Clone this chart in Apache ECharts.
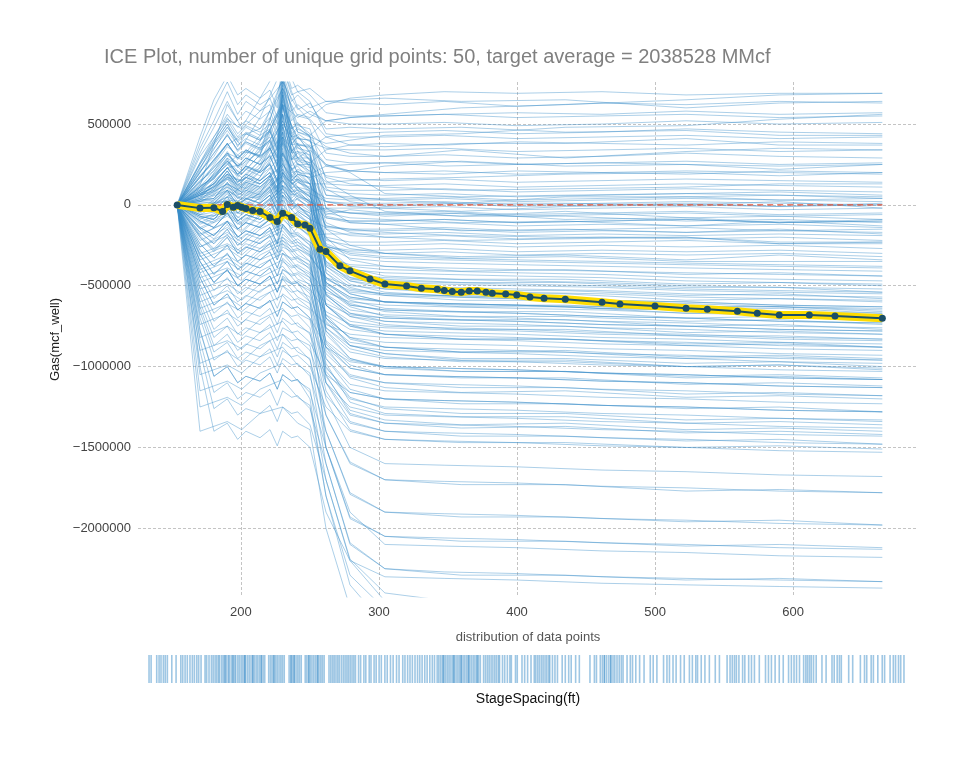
<!DOCTYPE html>
<html>
<head>
<meta charset="utf-8">
<script src="https://cdn.jsdelivr.net/npm/echarts@6/dist/echarts.min.js"></script>
<style>html,body{margin:0;padding:0;background:#fff;}#chart{width:977px;height:757px;}</style>
</head>
<body>
<div id="chart"></div>
<script>
// 50 unique grid points of StageSpacing(ft)
const gridX = [153.8,170.3,180.4,186.7,190.1,194.4,197.6,200.5,203.6,208.5,213.8,221.0,226.3,230.2,236.7,241.1,246.4,250.0,257.2,261.6,271.7,279.0,293.5,304.3,320.0,330.7,342.2,347.3,353.1,359.6,365.4,371.2,377.5,382.1,391.8,399.8,409.4,419.6,435.0,461.6,474.6,500.0,522.5,537.9,559.7,574.1,590.0,611.8,630.4,664.7];
// average (PDP) centered gas, mcf_well
const avgGas = [0,-20000,-17000,-41000,2000,-14000,-4000,-14000,-23000,-35000,-41000,-78000,-103000,-52000,-78000,-118000,-124000,-144000,-274000,-289000,-377000,-408000,-458000,-490000,-501000,-516000,-522000,-530000,-536000,-540000,-532000,-532000,-540000,-546000,-551000,-557000,-569000,-577000,-583000,-602000,-613000,-625000,-639000,-645000,-658000,-670000,-681000,-681000,-687000,-701000];

// ICE curves read at a coarse subset of the grid (values in thousands of mcf_well)
const iceXA = [153.8,170.3,190.1,200.5,213.8,230.2,241.1,250.0,261.6,279.0,304.3,359.6,435.0,522.5,590.0,664.7];
const iceLinesA = [
[0,150,320,280,400,620,540,580,520,540,560,600,620,650,680,690],
[0,90,250,330,310,800,450,420,380,400,430,440,480,490,530,560],
[0,200,480,360,540,850,600,520,320,300,300,340,290,330,350,340],
[0,60,170,150,280,420,290,340,250,210,240,270,240,250,220,250],
[0,120,620,480,660,900,700,720,640,650,660,640,650,600,630,640],
[0,30,130,80,210,390,250,250,140,150,160,170,190,200,180,200],
[0,250,530,470,580,760,590,630,470,480,470,480,450,460,430,430],
[0,80,310,210,360,610,410,400,170,130,110,90,100,110,130,130],
[0,180,370,430,470,720,550,530,420,370,360,380,380,410,370,370],
[0,40,230,250,330,500,370,370,250,200,70,50,60,70,80,60],
[0,20,90,30,130,250,140,110,20,-10,-20,-40,-10,0,20,-20],
[0,-30,50,110,70,310,170,130,-50,-80,-90,-110,-100,-130,-100,-130],
[0,60,160,110,210,450,250,230,-110,-170,-200,-220,-210,-200,-240,-240],
[0,-60,-30,40,50,200,90,50,-130,-150,-170,-190,-200,-200,-230,-230],
[0,100,270,190,310,650,370,360,60,50,30,10,50,50,60,40],
[0,-20,30,20,70,180,110,50,-60,-30,-50,-70,-40,-80,-70,-90],
[0,70,190,150,230,520,290,290,-20,-110,-120,-160,-150,-170,-150,-180],
[0,-80,-50,-50,10,120,50,10,-210,-270,-300,-320,-310,-340,-310,-340],
[0,40,130,80,170,380,200,190,-150,-250,-300,-330,-320,-350,-350,-350],
[0,130,360,290,430,780,490,470,150,60,-40,-70,-70,-100,-90,-110],
[0,10,20,-10,40,150,70,20,-30,-50,-70,-50,-90,-80,-110,-90],
[0,90,290,230,340,620,410,400,100,20,-10,10,10,0,-10,10],
[0,-50,50,10,110,250,110,90,-400,-510,-560,-590,-590,-630,-630,-650],
[0,-120,-50,-110,-10,100,-20,-50,-500,-610,-660,-690,-690,-720,-710,-740],
[0,30,170,120,230,480,270,250,-300,-450,-500,-530,-530,-560,-550,-580],
[0,-180,-110,-170,-70,30,-70,-110,-560,-670,-720,-750,-750,-790,-780,-800],
[0,60,230,170,270,560,330,310,-250,-390,-440,-460,-460,-490,-480,-500],
[0,-90,-20,-60,50,180,50,30,-620,-740,-800,-830,-830,-860,-850,-880],
[0,-150,-70,-130,-30,80,-30,-70,-450,-550,-600,-630,-630,-670,-660,-690],
[0,20,110,60,170,420,190,170,-700,-820,-880,-910,-910,-950,-940,-960],
[0,-220,-140,-210,-110,-20,-110,-150,-520,-630,-690,-710,-710,-750,-740,-770],
[0,110,310,240,390,720,450,430,-200,-340,-380,-410,-400,-430,-420,-440],
[0,-60,30,-20,80,220,90,60,-350,-470,-520,-550,-550,-590,-580,-600],
[0,-260,-170,-230,-130,-40,-130,-190,-620,-750,-800,-830,-830,-870,-860,-880],
[0,50,190,140,250,520,290,260,-550,-690,-740,-770,-770,-810,-810,-830],
[0,-110,-30,-90,20,150,30,-10,-480,-590,-640,-660,-660,-700,-690,-720],
[0,-30,90,40,150,320,150,130,-380,-490,-540,-570,-590,-630,-630,-660],
[0,-190,-100,-160,-60,60,-40,-90,-700,-870,-920,-960,-960,-1000,-990,-1010],
[0,80,250,190,310,600,350,330,-420,-550,-600,-620,-620,-650,-640,-670],
[0,-140,-60,-120,-20,100,-10,-50,-300,-410,-460,-480,-480,-510,-510,-540],
[0,-300,-240,-290,-190,-120,-230,-270,-800,-950,-1000,-1030,-1030,-1070,-1060,-1080],
[0,-380,-310,-370,-270,-200,-310,-350,-900,-1050,-1100,-1130,-1130,-1170,-1160,-1180],
[0,-450,-390,-440,-340,-280,-390,-430,-950,-1140,-1200,-1230,-1230,-1260,-1250,-1280],
[0,-520,-460,-510,-410,-340,-460,-490,-1000,-1190,-1260,-1290,-1290,-1330,-1320,-1340],
[0,-340,-270,-330,-230,-160,-270,-310,-760,-890,-940,-970,-970,-1000,-990,-1020],
[0,-600,-530,-590,-490,-420,-530,-570,-1050,-1290,-1350,-1380,-1370,-1410,-1400,-1420],
[0,-420,-350,-410,-310,-240,-350,-390,-850,-990,-1050,-1070,-1070,-1110,-1100,-1120],
[0,-680,-610,-660,-570,-500,-610,-650,-1100,-1340,-1400,-1430,-1430,-1460,-1450,-1480],
[0,-260,-190,-250,-150,-80,-190,-230,-680,-830,-880,-910,-900,-940,-930,-950],
[0,-480,-410,-470,-370,-300,-410,-450,-880,-1070,-1130,-1160,-1150,-1190,-1180,-1200],
[0,-560,-490,-550,-450,-380,-490,-530,-980,-1220,-1290,-1310,-1310,-1350,-1340,-1360],
[0,-740,-670,-730,-630,-560,-670,-710,-1150,-1390,-1450,-1470,-1470,-1500,-1490,-1510],
[0,-320,-250,-310,-210,-140,-250,-290,-720,-870,-920,-950,-950,-980,-970,-1000],
[0,-400,-330,-390,-290,-220,-330,-370,-780,-950,-1010,-1030,-1030,-1060,-1050,-1070],
[0,-640,-570,-630,-530,-460,-570,-610,-1060,-1270,-1330,-1360,-1350,-1390,-1380,-1400],
[0,-820,-750,-810,-710,-640,-750,-790,-1300,-1590,-1700,-1730,-1730,-1770,-1760,-1780],
[0,-900,-840,-890,-790,-720,-830,-870,-1400,-1790,-1900,-1930,-1930,-1960,-1950,-1980],
[0,-980,-910,-970,-870,-800,-910,-950,-1500,-1940,-2050,-2080,-2080,-2110,-2100,-2120],
[0,-1050,-990,-1040,-940,-880,-990,-1040,-1600,-2090,-2250,-2290,-2290,-2320,-2310,-2330],
[0,-1150,-1090,-1140,-1040,-980,-1090,-1140,-1700,-2190,-2400,-2460,-2470,-2500,-2500,-2500],
[0,-1250,-1190,-1240,-1140,-1080,-1190,-1240,-1800,-2290,-2500,-2560,-2570,-2600,-2600,-2600],
[0,-1400,-1340,-1390,-1290,-1250,-1350,-1390,-2000,-2490,-2700,-2760,-2790,-2800,-2800,-2800]
];

// ICE curves read at a finer subset of the grid (values in thousands of mcf_well)
const iceXB = [153.8,170.3,180.4,190.1,197.6,203.6,213.8,221.0,226.3,230.2,236.7,241.1,250.0,261.6,279.0,304.3,347.3,399.8,461.6,522.5,590.0,664.7];
const iceLinesB = [
[0,300,420,560,480,520,470,540,430,780,520,560,540,620,660,680,700,690,700,680,690,690],
[0,220,380,500,360,440,400,460,330,700,420,470,430,520,540,550,560,570,560,580,560,570],
[0,350,520,700,560,640,580,620,500,820,640,680,600,640,630,620,640,610,630,620,640,630],
[0,180,260,380,290,330,300,360,240,620,330,380,350,420,440,450,460,440,450,470,450,440],
[0,120,160,290,180,240,210,260,150,500,240,280,260,340,370,380,370,390,380,370,390,380],
[0,260,400,520,420,480,430,470,360,760,470,500,440,360,320,300,310,290,300,320,300,290],
[0,90,130,230,140,170,150,200,100,420,180,220,190,240,250,260,240,250,260,250,240,250],
[0,210,300,440,330,380,340,390,270,680,380,420,360,240,210,200,190,210,200,190,210,200],
[0,150,210,330,230,290,250,310,190,560,280,330,280,180,160,150,160,140,150,160,150,140],
[0,60,80,180,90,130,100,150,60,350,120,160,130,130,120,120,130,110,120,130,120,110],
[0,320,480,640,520,580,530,580,460,800,580,620,560,520,500,500,510,490,500,520,500,510],
[0,110,170,280,190,230,200,250,140,480,210,250,210,90,70,60,70,50,60,70,60,50],
[0,40,60,160,70,110,80,130,40,320,100,140,100,40,30,30,40,20,30,40,30,20],
[0,230,350,460,370,410,370,420,300,720,400,440,390,350,340,340,350,330,340,350,330,340],
[0,380,600,760,620,680,620,660,540,850,680,700,640,440,420,420,430,410,420,430,410,420],
[0,70,100,210,110,150,130,180,80,400,150,190,170,200,210,200,210,190,200,210,200,190],
[0,170,270,380,280,340,290,350,230,640,330,370,300,110,90,90,100,80,90,100,90,80],
[0,420,650,800,680,720,660,710,600,900,720,740,680,570,550,550,560,540,550,560,540,550],
[0,30,40,130,40,80,50,100,20,280,60,100,70,20,10,10,20,0,10,20,10,0],
[0,250,380,500,400,450,410,460,350,740,440,480,420,280,260,260,270,250,260,270,250,260],
[0,-10,10,90,0,40,10,60,-30,220,20,60,20,-40,-50,-50,-40,-60,-50,-40,-60,-50],
[0,80,130,230,140,190,150,200,100,450,170,210,160,-70,-100,-100,-90,-110,-100,-90,-110,-100],
[0,-70,-90,0,-100,-60,-90,-40,-140,120,-80,-40,-90,-140,-150,-150,-140,-160,-150,-140,-160,-150],
[0,140,230,320,240,290,250,300,200,560,280,320,240,-150,-190,-200,-190,-210,-200,-210,-200,-220],
[0,20,40,140,60,90,60,110,10,290,80,110,50,-220,-250,-250,-240,-260,-250,-260,-250,-270],
[0,-40,-40,50,-50,-10,-40,10,-90,170,-30,10,-40,-20,-20,-20,-10,-30,-20,-10,-30,-20],
[0,200,320,430,340,390,350,400,290,680,370,420,330,-80,-110,-120,-110,-130,-120,-130,-120,-140],
[0,60,90,190,100,140,110,160,60,380,130,160,100,-260,-290,-300,-290,-310,-300,-310,-300,-320],
[0,-140,-190,-100,-200,-160,-190,-140,-240,30,-180,-140,-190,-180,-180,-180,-170,-190,-180,-190,-180,-190],
[0,110,180,270,190,240,200,250,150,500,220,260,190,20,0,0,10,-10,0,10,-10,0],
[0,-20,-10,80,-20,20,-10,40,-70,200,0,40,-20,-200,-230,-230,-220,-240,-230,-220,-240,-230],
[0,260,420,540,440,490,450,500,380,780,470,510,420,-20,-50,-60,-50,-70,-60,-50,-70,-60],
[0,70,110,210,120,170,130,180,80,420,150,190,130,-130,-160,-160,-150,-170,-160,-170,-160,-170],
[0,-100,-140,-50,-150,-110,-140,-90,-190,60,-130,-90,-150,-260,-280,-280,-270,-290,-280,-290,-280,-300],
[0,170,280,380,290,340,300,350,250,620,320,360,280,60,40,40,50,30,40,50,30,40],
[0,10,20,110,20,60,30,80,-30,240,40,80,20,-80,-100,-100,-90,-110,-100,-90,-110,-100],
[0,-40,-40,50,-50,-10,-40,10,-60,60,-30,0,-80,-480,-570,-600,-610,-620,-630,-650,-660,-670],
[0,60,90,190,100,140,110,160,70,200,130,150,70,-380,-470,-500,-510,-520,-530,-550,-560,-570],
[0,-100,-140,-50,-150,-110,-140,-90,-160,-60,-130,-110,-180,-560,-670,-700,-710,-720,-740,-750,-770,-780],
[0,110,180,270,190,240,200,250,150,330,220,240,150,-300,-380,-400,-410,-420,-430,-450,-460,-470],
[0,-170,-240,-150,-250,-210,-240,-190,-290,-180,-230,-210,-280,-620,-720,-750,-760,-770,-790,-800,-820,-830],
[0,-10,10,90,0,40,10,60,-40,120,20,40,-30,-260,-330,-350,-360,-370,-380,-390,-400,-410],
[0,170,280,380,290,340,300,350,250,620,320,330,230,-420,-520,-550,-560,-570,-590,-600,-620,-630],
[0,-70,-90,0,-100,-60,-90,-40,-140,-20,-80,-60,-130,-350,-430,-450,-460,-470,-480,-500,-510,-520],
[0,-240,-330,-250,-350,-310,-340,-290,-390,-300,-330,-320,-380,-680,-770,-800,-810,-820,-840,-850,-870,-880],
[0,30,40,140,60,90,60,110,10,150,80,90,10,-520,-620,-650,-660,-670,-690,-700,-720,-730],
[0,-140,-190,-100,-200,-160,-190,-140,-240,-120,-180,-170,-230,-320,-370,-380,-390,-400,-410,-420,-430,-440],
[0,80,130,230,140,190,150,200,100,450,170,180,90,-580,-690,-720,-730,-740,-760,-770,-790,-800],
[0,-200,-280,-200,-300,-260,-290,-240,-340,-240,-280,-270,-320,-450,-500,-520,-530,-540,-550,-570,-580,-590],
[0,140,230,320,240,290,250,300,200,560,280,290,200,-240,-300,-320,-330,-340,-350,-360,-370,-380],
[0,-60,-70,20,-80,-40,-70,-20,-120,0,-60,-50,-120,-550,-650,-680,-690,-700,-720,-730,-750,-760],
[0,-280,-380,-300,-400,-360,-390,-340,-440,-330,-380,-370,-420,-540,-600,-620,-630,-640,-650,-670,-680,-690],
[0,230,370,480,390,440,400,450,340,700,420,430,320,-360,-460,-480,-490,-500,-510,-530,-540,-550],
[0,-80,-110,-20,-120,-80,-110,-60,-160,-40,-100,-90,-160,-450,-540,-560,-570,-580,-600,-610,-630,-640],
[0,50,70,170,80,120,90,140,40,200,110,110,30,-620,-750,-780,-790,-800,-820,-830,-850,-860],
[0,-310,-430,-350,-450,-410,-440,-390,-490,-400,-430,-420,-470,-610,-680,-700,-710,-720,-740,-750,-770,-780],
[0,100,160,260,170,220,180,230,130,320,200,210,130,-320,-400,-420,-430,-440,-450,-470,-480,-490],
[0,-150,-210,-120,-220,-180,-210,-160,-260,-130,-200,-190,-250,-490,-580,-600,-610,-620,-640,-650,-670,-680],
[0,20,30,120,40,70,40,90,-10,120,60,70,0,-250,-310,-330,-340,-350,-360,-370,-380,-390],
[0,-350,-480,-400,-500,-460,-490,-440,-540,-440,-480,-470,-520,-660,-740,-760,-770,-780,-800,-810,-830,-840],
[0,200,320,430,340,390,350,400,290,680,370,380,270,-500,-620,-650,-660,-670,-690,-700,-720,-730],
[0,-30,-20,70,-30,10,-20,30,-80,60,-10,0,-70,-370,-450,-470,-480,-490,-500,-520,-530,-540],
[0,-190,-270,-180,-280,-240,-270,-220,-320,-220,-260,-250,-310,-460,-530,-550,-560,-570,-590,-600,-620,-630],
[0,70,110,210,120,170,130,180,80,260,150,160,80,-480,-570,-600,-610,-620,-640,-650,-670,-680],
[0,-200,-290,-200,-300,-260,-290,-240,-340,-260,-290,-280,-350,-760,-870,-900,-910,-920,-940,-950,-970,-980],
[0,-350,-480,-400,-500,-460,-490,-440,-540,-460,-490,-480,-550,-880,-1010,-1050,-1060,-1070,-1090,-1100,-1120,-1130],
[0,-70,-90,0,-100,-60,-90,-40,-140,-30,-90,-80,-160,-700,-820,-850,-860,-870,-890,-900,-920,-930],
[0,-450,-620,-550,-650,-610,-640,-590,-690,-600,-640,-630,-700,-1010,-1160,-1200,-1210,-1220,-1240,-1250,-1270,-1280],
[0,-280,-380,-300,-400,-360,-390,-340,-440,-350,-390,-380,-450,-840,-960,-1000,-1010,-1020,-1040,-1050,-1070,-1080],
[0,-520,-720,-650,-750,-710,-740,-690,-790,-700,-740,-730,-800,-1100,-1250,-1300,-1310,-1320,-1340,-1350,-1370,-1380],
[0,-10,10,90,0,40,10,60,-40,80,10,0,-80,-780,-910,-950,-960,-970,-990,-1000,-1020,-1030],
[0,-380,-530,-450,-550,-510,-540,-490,-590,-500,-540,-530,-600,-920,-1060,-1100,-1110,-1120,-1140,-1150,-1170,-1180],
[0,-600,-820,-750,-850,-810,-840,-790,-890,-800,-840,-830,-900,-1180,-1350,-1400,-1410,-1420,-1440,-1450,-1470,-1480],
[0,-140,-190,-100,-200,-160,-190,-140,-240,-120,-190,-180,-250,-730,-850,-880,-890,-900,-920,-930,-950,-960],
[0,-310,-430,-350,-450,-410,-440,-390,-490,-400,-440,-430,-500,-950,-1110,-1150,-1160,-1170,-1190,-1200,-1220,-1230],
[0,-450,-620,-550,-650,-610,-640,-590,-690,-600,-640,-630,-700,-880,-970,-1000,-1010,-1020,-1040,-1050,-1070,-1080],
[0,-240,-330,-250,-350,-310,-340,-290,-390,-300,-340,-330,-400,-1030,-1200,-1250,-1260,-1270,-1290,-1300,-1320,-1330],
[0,-660,-910,-850,-950,-910,-940,-890,-990,-900,-940,-930,-1000,-1250,-1400,-1450,-1460,-1470,-1490,-1500,-1520,-1530],
[0,-420,-580,-500,-600,-560,-590,-540,-640,-550,-590,-580,-640,-740,-800,-820,-830,-840,-860,-870,-890,-900],
[0,-100,-140,-50,-150,-110,-140,-90,-190,-90,-140,-130,-200,-860,-1010,-1050,-1060,-1070,-1090,-1100,-1120,-1130],
[0,-560,-770,-700,-800,-760,-790,-740,-840,-760,-790,-780,-850,-1050,-1160,-1200,-1210,-1220,-1240,-1250,-1270,-1280],
[0,-170,-240,-150,-250,-210,-240,-190,-290,-200,-240,-230,-300,-1100,-1300,-1350,-1360,-1370,-1390,-1400,-1420,-1430],
[0,-630,-870,-800,-900,-860,-890,-840,-940,-850,-890,-880,-960,-1300,-1600,-1700,-1710,-1720,-1740,-1750,-1770,-1780],
[0,-700,-960,-900,-1000,-960,-990,-940,-1040,-950,-990,-980,-1060,-1400,-1780,-1900,-1910,-1920,-1940,-1950,-1970,-1980],
[0,-770,-1060,-1000,-1100,-1060,-1090,-1040,-1140,-1050,-1090,-1080,-1160,-1500,-1930,-2050,-2060,-2070,-2090,-2100,-2120,-2130],
[0,-840,-1160,-1100,-1200,-1160,-1190,-1140,-1240,-1150,-1190,-1180,-1260,-1600,-2100,-2250,-2270,-2280,-2300,-2310,-2320,-2330],
[0,-900,-1260,-1200,-1300,-1260,-1290,-1240,-1340,-1250,-1290,-1280,-1360,-1700,-2200,-2450,-2480,-2490,-2500,-2500,-2500,-2500],
[0,-780,-1060,-1000,-1100,-1060,-1090,-1040,-1140,-1050,-1090,-1080,-1200,-1800,-2350,-2600,-2620,-2630,-2650,-2660,-2670,-2680],
[0,-490,-670,-600,-700,-660,-690,-640,-740,-650,-690,-680,-760,-1200,-1500,-1600,-1610,-1620,-1640,-1650,-1670,-1680],
[0,-350,-480,-400,-500,-460,-490,-440,-540,-450,-490,-480,-600,-1500,-1900,-2100,-2110,-2120,-2140,-2150,-2170,-2180],
[0,-1000,-1400,-1350,-1450,-1400,-1440,-1390,-1490,-1400,-1440,-1430,-1500,-1900,-2200,-2300,-2310,-2320,-2340,-2350,-2360,-2370]
];

// StageSpacing(ft) of the data points (rug)
const rugX = [153.8,155.2,159.0,160.6,161.9,163.5,164.8,166.2,169.2,172.1,175.3,176.6,178.2,179.7,181.5,183.1,184.5,186.1,187.4,189.0,191.7,192.8,194.4,
196.0,197.2,198.5,199.6,200.8,201.5,202.9,204.0,205.2,206.3,207.5,208.1,209.4,210.6,211.8,212.5,213.9,215.0,216.2,217.3,218.5,219.1,220.4,221.6,222.8,224.0,225.1,226.3,227.4,228.6,229.8,231.0,232.1,
234.8,236.0,237.1,238.3,239.5,240.6,241.8,243.0,244.1,245.3,248.6,249.8,251.0,252.1,253.3,254.5,255.6,256.8,259.5,260.6,261.8,263.0,264.1,265.3,266.5,267.6,268.8,270.0,271.1,272.3,
275.6,276.8,278.0,279.1,280.3,281.5,282.6,205.2,210.6,218.5,224.0,229.8,238.3,250.0,252.0,262.0,268.0,
284.0,285.3,286.5,287.7,288.8,290.0,291.2,292.4,293.5,295.6,297.0,299.2,300.5,302.8,304.0,306.1,307.5,309.5,311.0,313.4,315.0,317.2,319.0,321.3,323.0,
325.5,327.0,328.8,330.4,332.0,333.8,335.5,337.0,338.6,340.4,342.0,343.8,345.5,347.0,
348.8,349.9,351.1,352.3,353.4,354.6,355.8,356.9,358.1,359.3,360.4,361.6,362.8,363.9,365.1,366.3,367.4,368.6,369.8,370.9,372.1,373.3,374.4,375.6,376.8,378.0,353.0,360.0,365.0,370.0,376.0,
380.2,381.5,382.8,384.0,385.3,386.5,387.8,389.0,390.3,391.0,393.0,394.5,396.3,398.0,399.0,401.8,403.0,406.2,408.0,410.0,412.3,414.5,
415.5,416.8,418.0,419.3,420.5,421.8,423.0,424.3,425.0,426.8,428.5,430.2,433.4,435.5,437.8,439.5,442.5,445.0,452.2,455.2,456.6,
459.2,460.6,462.0,463.5,465.0,466.3,467.8,469.0,470.5,472.0,473.4,474.6,462.0,466.3,477.3,479.5,481.0,483.2,485.8,488.8,493.0,495.0,497.5,
502.0,504.3,506.0,508.4,510.5,513.5,516.0,519.5,521.5,523.8,525.0,527.5,530.0,533.0,537.0,539.8,545.0,
547.0,548.5,550.0,551.3,553.0,555.5,557.0,559.6,561.5,563.5,566.8,571.0,573.0,575.0,577.5,580.3,583.0,586.6,588.5,590.3,592.0,594.0,
596.8,598.3,599.5,600.8,602.0,603.5,605.3,609.2,612.0,616.0,617.5,619.5,621.0,622.3,627.3,630.0,635.2,638.0,639.5,642.5,644.0,647.0,650.0,651.6,655.3,657.5,659.0,661.0,662.5,664.7];

const K = 1000;
const FONT = 'Liberation Sans, Arial, sans-serif';
const minus = v => String(v).replace('-', '\u2212');

const iceStyle = { color: '#3a8cc8', width: 1.0, opacity: 0.42 };
const makeIce = (xs, lines) => lines.map(vals => ({
  type: 'line',
  data: xs.map((x, j) => [x, vals[j] * K]),
  symbol: 'none', silent: true, animation: false, z: 1,
  lineStyle: iceStyle
}));
const iceSeries = makeIce(iceXA, iceLinesA).concat(makeIce(iceXB, iceLinesB));

const avgData = gridX.map((x, i) => [x, avgGas[i]]);

const option = {
  backgroundColor: '#ffffff',
  animation: false,
  title: [{
    text: 'ICE Plot, number of unique grid points: 50, target average = 2038528 MMcf',
    left: 99, top: 42,
    textStyle: { color: '#808080', fontSize: 20, fontWeight: 'normal', fontFamily: FONT }
  }],
  graphic: [
    { type: 'text', x: 528, y: 637, style: { text: 'distribution of data points', align: 'center', verticalAlign: 'middle', fill: '#555555', fontSize: 13, fontFamily: FONT } },
    { type: 'text', x: 528, y: 699, style: { text: 'StageSpacing(ft)', align: 'center', verticalAlign: 'middle', fill: '#111111', fontSize: 14, fontFamily: FONT } }
  ],
  grid: [
    { left: 138, right: 61, top: 82, bottom: 160 },
    { left: 148, right: 72, top: 655, height: 28 }
  ],
  xAxis: [{
    type: 'value', gridIndex: 0, min: 125.4, max: 689.1,
    axisLine: { show: false }, axisTick: { show: false },
    axisLabel: { showMinLabel: false, showMaxLabel: false, color: '#444444', fontSize: 13, margin: 9, fontFamily: FONT },
    splitLine: { show: true, showMinLine: false, showMaxLine: false, lineStyle: { color: '#b5b5b5', type: [3, 2], width: 0.8 } }
  }, {
    type: 'value', gridIndex: 1, min: 153.1, max: 665.4, show: false
  }],
  yAxis: [{
    type: 'value', gridIndex: 0, min: -2425000, max: 760000,
    name: 'Gas(mcf_well)', nameLocation: 'middle', nameGap: 76,
    nameTextStyle: { color: '#222222', fontSize: 13, fontFamily: FONT },
    axisLine: { show: false }, axisTick: { show: false },
    axisLabel: { showMinLabel: false, showMaxLabel: false, color: '#444444', fontSize: 13, margin: 7, fontFamily: FONT, formatter: minus },
    splitLine: { show: true, showMinLine: false, showMaxLine: false, lineStyle: { color: '#b5b5b5', type: [3, 2], width: 0.8 } }
  }, {
    type: 'value', gridIndex: 1, min: -1, max: 1, show: false
  }],
  series: [
    ...iceSeries,
    {
      type: 'line', data: [[gridX[0], 0], [gridX[gridX.length - 1], 0]],
      symbol: 'none', silent: true, z: 3,
      lineStyle: { color: '#E75438', width: 1.4, type: [6, 4] }
    },
    {
      type: 'line', data: avgData, symbol: 'none', silent: true, z: 4,
      lineStyle: { color: '#FEDC00', width: 8 }
    },
    {
      type: 'line', data: avgData, symbol: 'circle', symbolSize: 7, silent: true, z: 5,
      lineStyle: { color: '#1A4E66', width: 2 },
      itemStyle: { color: '#1A4E66' }
    },
    {
      type: 'scatter', xAxisIndex: 1, yAxisIndex: 1,
      data: rugX.map(v => [v, 0]),
      symbol: 'rect', symbolSize: [1.6, 28], silent: true,
      itemStyle: { color: '#3f8fca', opacity: 0.5 }
    }
  ]
};

const chart = echarts.init(document.getElementById('chart'), null, { renderer: 'canvas' });
chart.setOption(option);
</script>
</body>
</html>
